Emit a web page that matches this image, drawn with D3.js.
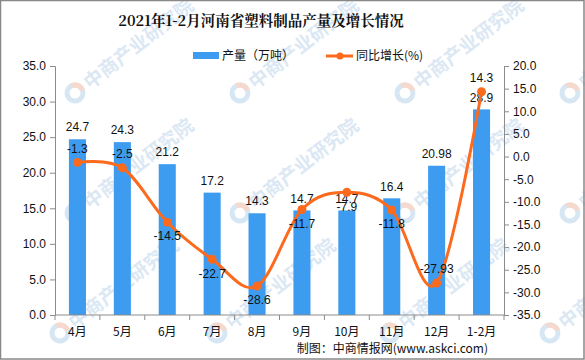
<!DOCTYPE html>
<html><head><meta charset="utf-8">
<script src="https://cdn.jsdelivr.net/npm/d3@7"></script>
<style>html,body{margin:0;padding:0;background:#fff}svg{display:block}</style>
</head><body><svg id="c" width="585" height="360"></svg>
<script>
const categories = ["4月","5月","6月","7月","8月","9月","10月","11月","12月","1-2月"];
const output = [24.7, 24.3, 21.2, 17.2, 14.3, 14.7, 14.7, 16.4, 20.98, 28.9];
const outputLabels = ["24.7","24.3","21.2","17.2","14.3","14.7","14.7","16.4","20.98","28.9"];
const growth = [-1.3, -2.5, -14.5, -22.7, -28.6, -11.7, -7.9, -11.8, -27.93, 14.3];
const growthLabels = ["-1.3","-2.5","-14.5","-22.7","-28.6","-11.7","-7.9","-11.8","-27.93","14.3"];
const growthLabelSide = ["above","above","below","below","below","below","below","below","above","above"];
const leftTicks = [0,5,10,15,20,25,30,35];
const rightTicks = [-35,-30,-25,-20,-15,-10,-5,0,5,10,15,20];
const title = "2021年1-2月河南省塑料制品产量及增长情况";
const seriesNames = ["产量（万吨）","同比增长(%)"];
const source = "制图：中商情报网(www.askci.com)";

const svg = d3.select("#c");
const FONT = "'Liberation Sans','DejaVu Sans','Noto Sans CJK SC',sans-serif";
const CJK = "'Noto Sans CJK SC',sans-serif";
const BLUE = "#3d9cf0", ORANGE = "#fc6a1e", AXIS = "#8c8c8c";

// watermark
const wm = svg.append("g").attr("class","watermark");
const wmPts = [[75,93],[240,93],[405,93],[570,93],[75,213],[240,213],[405,213],[570,213],[60,333],[217,333],[390,333],[550,333]];
wmPts.forEach(([x,y])=>{
  const g = wm.append("g").attr("transform",`translate(${x},${y}) rotate(-38)`);
  g.append("circle").attr("r",8).attr("fill","none").attr("stroke","#d6e6f3").attr("stroke-width",5);
  g.append("path").attr("d",d3.arc()({innerRadius:5.5,outerRadius:10.5,startAngle:0.2,endAngle:1.9})).attr("fill","#f6d9cc");
  g.append("text").attr("x",14).attr("y",7).attr("font-family",CJK).attr("font-size",19).attr("font-weight","bold")
    .attr("fill","#dbe8f4").text("中商产业研究院");
});

// title
svg.append("text").attr("x",261).attr("y",26).attr("text-anchor","middle")
  .attr("font-family","'Noto Serif CJK SC','Noto Sans CJK SC',serif").attr("font-weight","bold").attr("font-size",14.5)
  .attr("fill","#111").text(title);

// scales
const x = d3.scaleBand().domain(categories).range([55,504]).paddingInner(0).paddingOuter(0);
const yL = d3.scaleLinear().domain([0,35]).range([315,66]);
const yR = d3.scaleLinear().domain([-35,20]).range([315,66]);
const barW = x.bandwidth()*0.38;
const cx = c => x(c)+x.bandwidth()/2;

// bars
svg.append("g").selectAll("rect").data(output).join("rect")
  .attr("x",(d,i)=>cx(categories[i])-barW/2).attr("width",barW)
  .attr("y",d=>yL(d)).attr("height",d=>yL(0)-yL(d)).attr("fill",BLUE);

// axes
const fmt = v => v.toFixed(1);
const axL = svg.append("g").attr("transform","translate(55,0)")
  .call(d3.axisLeft(yL).tickValues(leftTicks).tickFormat(fmt).tickSize(5).tickPadding(4));
const axR = svg.append("g").attr("transform","translate(504,0)")
  .call(d3.axisRight(yR).tickValues(rightTicks).tickFormat(fmt).tickSize(5).tickPadding(4));
const axB = svg.append("g").attr("transform","translate(0,315)")
  .call(d3.axisBottom(x).tickSize(0).tickPadding(10));
[axL,axR,axB].forEach(a=>{
  a.select(".domain").attr("stroke",AXIS);
  a.selectAll(".tick line").attr("stroke",AXIS);
  a.selectAll("text").attr("font-family",FONT).attr("font-size",12).attr("fill","#111");
});
axB.select(".domain").attr("d","M55,0H504");
axB.selectAll("text").attr("font-family",CJK).attr("font-size",12).attr("dy","0.9em");
// x tick marks at band boundaries
axB.append("g").selectAll("line").data(categories.concat(["_end"])).join("line")
  .attr("x1",(d,i)=>i<categories.length?x(d):504).attr("x2",(d,i)=>i<categories.length?x(d):504)
  .attr("y1",0).attr("y2",5).attr("stroke",AXIS);

// bar labels
svg.append("g").selectAll("text").data(output).join("text")
  .attr("x",(d,i)=>cx(categories[i])).attr("y",d=>yL(d)-12).attr("dy","0.35em")
  .attr("text-anchor","middle").attr("font-family",FONT).attr("font-size",12).attr("fill","#111")
  .text((d,i)=>outputLabels[i]);

// line
const line = d3.line().x((d,i)=>cx(categories[i])).y(d=>yR(d)).curve(d3.curveCatmullRom.alpha(0));
svg.append("path").datum(growth).attr("d",line).attr("fill","none").attr("stroke",ORANGE).attr("stroke-width",3);
svg.append("g").selectAll("circle").data(growth).join("circle")
  .attr("cx",(d,i)=>cx(categories[i])).attr("cy",d=>yR(d)).attr("r",4.5).attr("fill",ORANGE);

// line labels
svg.append("g").selectAll("text").data(growth).join("text")
  .attr("x",(d,i)=>cx(categories[i]))
  .attr("y",(d,i)=>yR(d)+(growthLabelSide[i]==="above"?-14:14)).attr("dy","0.35em")
  .attr("text-anchor","middle").attr("font-family",FONT).attr("font-size",12).attr("fill","#111")
  .text((d,i)=>growthLabels[i]);

// legend
const lg = svg.append("g");
lg.append("rect").attr("x",193).attr("y",52).attr("width",26).attr("height",7).attr("fill",BLUE);
lg.append("text").attr("x",222).attr("y",56).attr("dy","0.35em").attr("font-family",CJK).attr("font-size",12).attr("fill","#111").text(seriesNames[0]);
lg.append("line").attr("x1",326).attr("x2",353).attr("y1",56).attr("y2",56).attr("stroke",ORANGE).attr("stroke-width",3);
lg.append("circle").attr("cx",340).attr("cy",56).attr("r",3.5).attr("fill",ORANGE);
lg.append("text").attr("x",356).attr("y",56).attr("dy","0.35em").attr("font-family",CJK).attr("font-size",12).attr("fill","#111").text(seriesNames[1]);

// source
svg.append("text").attr("x",488).attr("y",349).attr("dy","0.35em").attr("text-anchor","end")
  .attr("font-family",CJK).attr("font-size",12).attr("fill","#111").text(source);

// border
svg.append("rect").attr("x",0.5).attr("y",0.5).attr("width",583.5).attr("height",358.5)
  .attr("fill","none").attr("stroke","#888").attr("stroke-width",1.5);
</script></body></html>
